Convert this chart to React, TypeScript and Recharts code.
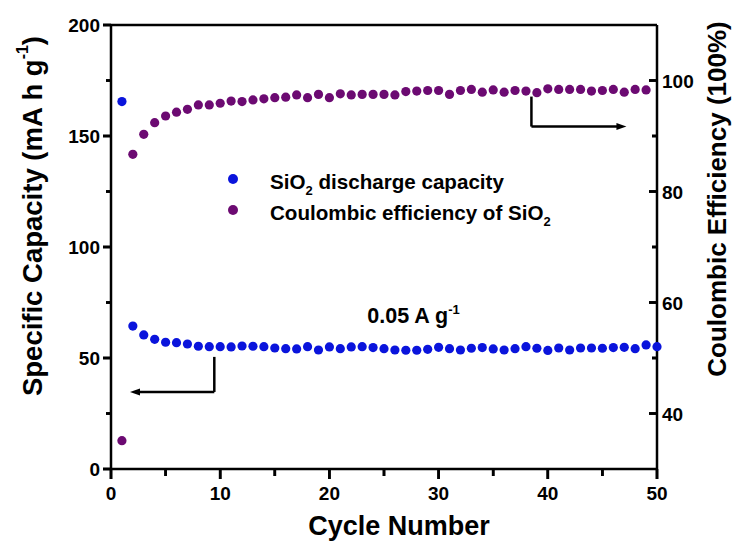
import React from "react";
import {
  ScatterChart,
  Scatter,
  XAxis,
  YAxis,
  ReferenceLine,
  ReferenceDot,
  Legend,
  Label,
} from "recharts";

const FONT = '"Liberation Sans", Arial, Helvetica, sans-serif';
const BLUE = "#0a14dc";
const PURPLE = "#6c0a72";

const cycles = [
  1, 2, 3, 4, 5, 6, 7, 8, 9, 10, 11, 12, 13, 14, 15, 16, 17, 18, 19, 20, 21,
  22, 23, 24, 25, 26, 27, 28, 29, 30, 31, 32, 33, 34, 35, 36, 37, 38, 39, 40,
  41, 42, 43, 44, 45, 46, 47, 48, 49, 50,
];

// discharge capacity, mA h g-1 (left axis)
const capacity = [
  165.5, 64.4, 60.4, 58.4, 57.1, 56.9, 56.3, 55.3, 55.1, 55.1, 55.0, 55.4,
  55.3, 55.1, 54.5, 54.2, 54.1, 55.1, 53.6, 55.0, 54.2, 55.0, 55.1, 54.7, 54.2,
  53.6, 53.5, 53.5, 53.9, 54.8, 54.2, 53.6, 54.4, 54.7, 54.1, 53.6, 54.2, 55.1,
  54.4, 53.4, 54.5, 53.6, 54.5, 54.5, 54.4, 54.7, 54.8, 54.2, 55.9, 55.1,
];

// coulombic efficiency, % (right axis) - cycles 1..49
const efficiency = [
  35.1, 86.7, 90.3, 92.4, 93.6, 94.3, 94.8, 95.6, 95.6, 95.9, 96.3, 96.2, 96.5,
  96.7, 96.9, 97.0, 97.4, 96.9, 97.5, 96.9, 97.6, 97.4, 97.5, 97.5, 97.5, 97.4,
  98.0, 98.1, 98.2, 98.2, 97.5, 98.2, 98.4, 97.9, 98.3, 97.9, 98.2, 98.1, 97.8,
  98.5, 98.4, 98.4, 98.4, 98.1, 98.2, 98.4, 97.9, 98.4, 98.3,
];

const xTicks = [0, 5, 10, 15, 20, 25, 30, 35, 40, 45, 50];
const leftTicks = [0, 25, 50, 75, 100, 125, 150, 175, 200];
const rightTicks = [40, 50, 60, 70, 80, 90, 100];

const capData = cycles.map((x, i) => ({ x, y: capacity[i] }));
const effData = efficiency.map((y, i) => ({ x: cycles[i], y }));

const tickText = {
  fontFamily: FONT,
  fontWeight: "bold" as const,
  fontSize: 19,
  fill: "#000",
};

// short tick segment as a filled rect, anchored at (cx, cy)
const tickRect = (cx: number, cy: number, dx: number, dy: number) => {
  const w = 2.6;
  const x = dx === 0 ? cx - w / 2 : Math.min(cx, cx + dx);
  const y = dy === 0 ? cy - w / 2 : Math.min(cy, cy + dy);
  return (
    <rect
      x={x}
      y={y}
      width={dx === 0 ? w : Math.abs(dx)}
      height={dy === 0 ? w : Math.abs(dy)}
      fill="#000"
    />
  );
};

// axis ticks: mark + label for major values
const BottomTick = (props: any) => {
  const { x, y, payload } = props;
  const major = payload.value % 10 === 0;
  return (
    <g>
      {tickRect(x, y, 0, major ? 10 : 7)}
      {major && (
        <text x={x} y={y + 31} textAnchor="middle" {...tickText}>
          {payload.value}
        </text>
      )}
    </g>
  );
};

const LeftTick = (props: any) => {
  const { x, y, payload } = props;
  const major = payload.value % 50 === 0;
  return (
    <g>
      {tickRect(x, y, major ? -8 : -5, 0)}
      {major && (
        <text x={x - 11} y={y + 7} textAnchor="end" {...tickText}>
          {payload.value}
        </text>
      )}
    </g>
  );
};

const RightTick = (props: any) => {
  const { x, y, payload } = props;
  const major = payload.value % 20 === 0;
  return (
    <g>
      {tickRect(x, y, major ? -8 : -5, 0)}
      {major && (
        <text x={x + 5} y={y + 7} textAnchor="start" {...tickText}>
          {payload.value}
        </text>
      )}
    </g>
  );
};

const tickMark = (dx: number, dy: number) => (props: any) =>
  tickRect(props.cx, props.cy, dx, dy);

const titleText = {
  fontFamily: FONT,
  fontWeight: "bold" as const,
  fontSize: 26,
  fill: "#000",
};

const leftTitle = (props: any) => {
  const vb = props.viewBox;
  const cx = vb.x + vb.width - 79;
  const cy = vb.y + vb.height / 2 - 31;
  return (
    <text
      x={cx}
      y={cy}
      transform={`rotate(-90 ${cx} ${cy})`}
      textAnchor="middle"
      dominantBaseline="central"
      {...titleText}
      fontSize={27.5}
    >
      Specific Capacity (mA h g
      <tspan fontSize={16} dy={-10}>
        -1
      </tspan>
      <tspan dy={10}>)</tspan>
    </text>
  );
};

const rightTitle = (props: any) => {
  const vb = props.viewBox;
  const cx = vb.x + 60;
  const cy = vb.y + vb.height / 2 - 48;
  return (
    <text
      x={cx}
      y={cy}
      transform={`rotate(-90 ${cx} ${cy})`}
      textAnchor="middle"
      dominantBaseline="central"
      {...titleText}
    >
      Coulombic Efficiency (100%)
    </text>
  );
};

const bottomTitle = (props: any) => {
  const vb = props.viewBox;
  return (
    <text x={vb.x + vb.width / 2 + 15} y={vb.y + 66} textAnchor="middle" {...titleText} fontSize={27}>
      Cycle Number
    </text>
  );
};

const dot = (color: string) => (props: any) =>
  <circle cx={props.cx} cy={props.cy} r={4.6} fill={color} />;

const legendItems = [
  {
    color: BLUE,
    label: (
      <>
        SiO<span style={{ fontSize: 13, position: "relative", top: 6 }}>2</span> discharge capacity
      </>
    ),
  },
  {
    color: PURPLE,
    label: (
      <>
        Coulombic efficiency of SiO
        <span style={{ fontSize: 13, position: "relative", top: 6 }}>2</span>
      </>
    ),
  },
];

const renderLegend = () => (
  <div style={{ fontFamily: FONT, fontWeight: "bold", fontSize: 20.6, color: "#000" }}>
    {legendItems.map((item, i) => (
      <div key={i} style={{ display: "flex", alignItems: "center", height: 31, whiteSpace: "nowrap" }}>
        <svg width={22} height={12} style={{ marginTop: -5 }}>
          <circle cx={11} cy={6} r={5} fill={item.color} />
        </svg>
        <span style={{ marginLeft: 26 }}>{item.label}</span>
      </div>
    ))}
  </div>
);

const arrowLeft = (props: any) => (
  <polygon
    points={`${props.cx},${props.cy} ${props.cx + 10},${props.cy - 3.5} ${props.cx + 10},${props.cy + 3.5}`}
    fill="#000"
  />
);

const arrowRight = (props: any) => (
  <polygon
    points={`${props.cx},${props.cy} ${props.cx - 10},${props.cy - 3.5} ${props.cx - 10},${props.cy + 3.5}`}
    fill="#000"
  />
);

const rateText = (props: any) => (
  <text x={props.cx} y={props.cy} textAnchor="middle" fontFamily={FONT} fontWeight="bold" fontSize={21.5} fill="#000">
    0.05 A g
    <tspan fontSize={13} dy={-9}>
      -1
    </tspan>
  </text>
);

const axisLine = { stroke: "#000", strokeWidth: 2.5 };

export default function App() {
  return (
    <div style={{ position: "absolute", left: 0, top: 0, background: "#fff" }}>
      <ScatterChart
        width={734}
        height={543}
        margin={{ top: 25, right: 17, bottom: 14, left: 51 }}
      >
        <XAxis
          type="number"
          dataKey="x"
          domain={[0, 50]}
          ticks={xTicks}
          interval={0}
          height={60}
          tickSize={0}
          tickMargin={0}
          tick={BottomTick}
          axisLine={axisLine}
          tickLine={false}
        >
          <Label content={bottomTitle} />
        </XAxis>
        <YAxis
          yAxisId="left"
          type="number"
          dataKey="y"
          domain={[0, 200]}
          ticks={leftTicks}
          interval={0}
          width={60}
          tickSize={0}
          tickMargin={0}
          tick={LeftTick}
          axisLine={axisLine}
          tickLine={false}
        >
          <Label content={leftTitle} />
        </YAxis>
        <YAxis
          yAxisId="right"
          orientation="right"
          type="number"
          dataKey="y"
          domain={[30, 110]}
          ticks={rightTicks}
          interval={0}
          width={60}
          tickSize={0}
          tickMargin={0}
          tick={RightTick}
          axisLine={axisLine}
          tickLine={false}
        >
          <Label content={rightTitle} />
        </YAxis>

        <ReferenceLine yAxisId="left" y={200} stroke="#000" strokeWidth={2.5} />

        {/* tick marks again through reference dots, in case axis ticks are dropped */}
        {xTicks.map((v) => (
          <ReferenceDot
            key={`xt${v}`}
            yAxisId="left"
            x={v}
            y={0}
            r={0}
            ifOverflow="visible"
            shape={tickMark(0, v % 10 === 0 ? 10 : 7)}
          />
        ))}
        {leftTicks.map((v) => (
          <ReferenceDot
            key={`lt${v}`}
            yAxisId="left"
            x={0}
            y={v}
            r={0}
            ifOverflow="visible"
            shape={tickMark(v % 50 === 0 ? -8 : -5, 0)}
          />
        ))}
        {rightTicks.map((v) => (
          <ReferenceDot
            key={`rt${v}`}
            yAxisId="right"
            x={50}
            y={v}
            r={0}
            ifOverflow="visible"
            shape={tickMark(v % 20 === 0 ? -8 : -5, 0)}
          />
        ))}

        <Legend
          verticalAlign="middle"
          align="center"
          content={renderLegend}
          wrapperStyle={{ left: 222, top: 166, width: 380 }}
        />

        <Scatter
          name="SiO2 discharge capacity"
          data={capData}
          yAxisId="left"
          fill={BLUE}
          shape={dot(BLUE)}
          isAnimationActive={false}
        />
        <Scatter
          name="Coulombic efficiency of SiO2"
          data={effData}
          yAxisId="right"
          fill={PURPLE}
          shape={dot(PURPLE)}
          isAnimationActive={false}
        />

        {/* arrow pointing to the left axis */}
        <ReferenceLine
          yAxisId="left"
          segment={[{ x: 9.46, y: 50.5 }, { x: 9.46, y: 34.7 }]}
          stroke="#000"
          strokeWidth={2.5}
        />
        <ReferenceLine
          yAxisId="left"
          segment={[{ x: 9.46, y: 34.7 }, { x: 2.3, y: 34.7 }]}
          stroke="#000"
          strokeWidth={2.5}
        />
        <ReferenceDot yAxisId="left" x={1.74} y={34.7} r={0} shape={arrowLeft} />

        {/* arrow pointing to the right axis */}
        <ReferenceLine
          yAxisId="right"
          segment={[{ x: 38.5, y: 97.1 }, { x: 38.5, y: 91.7 }]}
          stroke="#000"
          strokeWidth={2.5}
        />
        <ReferenceLine
          yAxisId="right"
          segment={[{ x: 38.5, y: 91.7 }, { x: 46.6, y: 91.7 }]}
          stroke="#000"
          strokeWidth={2.5}
        />
        <ReferenceDot yAxisId="right" x={47.2} y={91.7} r={0} shape={arrowRight} />

        <ReferenceDot yAxisId="left" x={27.7} y={65.8} r={0} shape={rateText} />
      </ScatterChart>
    </div>
  );
}
